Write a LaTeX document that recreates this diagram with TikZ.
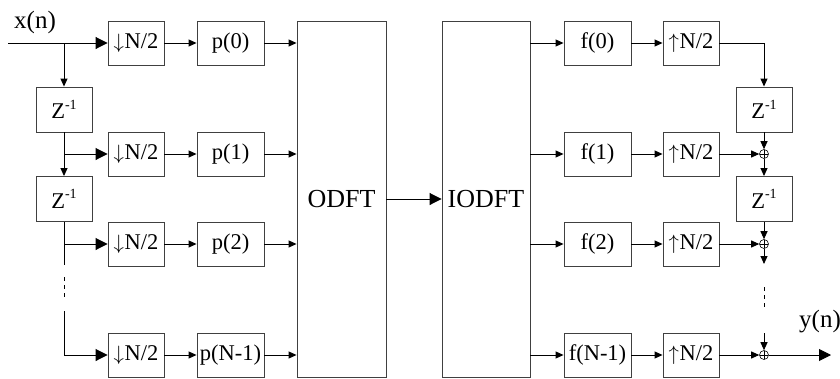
\documentclass[tikz,border=0pt]{standalone}
\usepackage{fontspec}
\setmainfont{Liberation Serif}
\usetikzlibrary{arrows.meta}
\newcommand\zinv{Z\raisebox{0.42em}{\fontsize{14}{14}\selectfont -1}}
\newcommand\dnarr{$\downarrow$\kern0.5pt}
\newcommand\uparr{$\uparrow$\kern0.5pt}
\begin{document}
\begin{tikzpicture}[x=1pt,y=-1pt,
  blk/.style={draw=black!75, line width=0.9pt, minimum height=44pt, inner sep=0pt,
    font=\fontsize{22.5}{25}\selectfont},
  narrow/.style={blk, minimum width=56pt},
  wide/.style={blk, minimum width=67pt},
  delay/.style={narrow, minimum height=45pt},
  tall/.style={blk, minimum height=356pt, font=\fontsize{26}{28}\selectfont},
  sig/.style={line width=0.9pt, -{Triangle[length=8pt,width=7pt]}},
  bigsig/.style={line width=0.9pt, -{Triangle[length=12pt,width=12pt]}},
  wire/.style={line width=0.9pt},
  dots/.style={line width=0.9pt, dash pattern=on 4pt off 4pt},
  sumnode/.style={circle, draw, minimum size=9pt, inner sep=0pt, line width=0.6pt,
    path picture={\draw[line width=0.6pt]
      (path picture bounding box.north) -- (path picture bounding box.south)
      (path picture bounding box.west) -- (path picture bounding box.east);}},
  lbl/.style={font=\fontsize{25}{27}\selectfont, inner sep=0pt}]
\useasboundingbox (0,0) rectangle (840,378);

% analysis side
\node[lbl] (xin) at (35,22) {x(n)};
\node[narrow] (d0) at (136,43) {\dnarr N/2};
\node[narrow] (d1) at (136,154) {\dnarr N/2};
\node[narrow] (d2) at (136,244) {\dnarr N/2};
\node[narrow] (d3) at (136,355) {\dnarr N/2};
\node[wide] (p0) at (230.5,43) {p(0)};
\node[wide] (p1) at (230.5,154) {p(1)};
\node[wide] (p2) at (230.5,244) {p(2)};
\node[wide] (p3) at (230.5,355) {p(N-1)};
\node[delay] (z1) at (64,109.5) {\zinv};
\node[delay] (z2) at (64,199) {\zinv};

% transforms
\node[tall, minimum width=89pt] (odft) at (341.5,199) {ODFT};
\node[tall, minimum width=88pt] (iodft) at (486,199) {IODFT};

% synthesis side
\node[wide] (f0) at (597.5,43) {f(0)};
\node[wide] (f1) at (597.5,154) {f(1)};
\node[wide] (f2) at (597.5,244) {f(2)};
\node[wide] (f3) at (597.5,355) {f(N-1)};
\node[narrow] (u0) at (691,43) {\uparr N/2};
\node[narrow] (u1) at (691,154) {\uparr N/2};
\node[narrow] (u2) at (691,244) {\uparr N/2};
\node[narrow] (u3) at (691,355) {\uparr N/2};
\node[delay] (zr1) at (764,109.5) {\zinv};
\node[delay] (zr2) at (764,199) {\zinv};
\node[sumnode] (s1) at (764,154) {};
\node[sumnode] (s2) at (764,244) {};
\node[sumnode] (s3) at (764,355) {};
\node[lbl] (yout) at (820,322) {y(n)};

% input tapped delay line
\coordinate (in) at (8,43);
\coordinate (b0) at (64,43);
\coordinate (b1) at (64,154);
\coordinate (b2) at (64,244);
\coordinate (g1) at (64,265);
\coordinate (g2) at (64,277);
\coordinate (g3) at (64,300);
\coordinate (g4) at (64,311);
\coordinate (b3) at (64,355);
\draw[bigsig] (in) -- (d0);
\draw[sig] (b0) -- (z1);
\draw[wire] (z1) -- (b1);
\draw[bigsig] (b1) -- (d1);
\draw[sig] (b1) -- (z2);
\draw[wire] (z2) -- (g1);
\draw[bigsig] (b2) -- (d2);
\draw[dots] (g2) -- (g3);
\draw[wire] (g4) -- (b3);
\draw[bigsig] (b3) -- (d3);

% polyphase branches into the ODFT
\foreach \i in {0,1,2,3} {
  \draw[sig] (d\i) -- (p\i);
  \draw[sig] (p\i) -- (p\i -| odft.west);
  \draw[sig] (f\i -| iodft.east) -- (f\i);
  \draw[sig] (f\i) -- (u\i);
}
\draw[bigsig] (odft) -- (iodft);

% output delay-and-add chain
\coordinate (h1) at (764,264);
\coordinate (h2) at (764,287);
\coordinate (h3) at (764,310);
\coordinate (h4) at (764,333);
\coordinate (out) at (831,355);
\draw[sig] (u0) -| (zr1);
\draw[sig] (zr1) -- (s1);
\draw[sig] (u1) -- (s1);
\draw[sig] (s1) -- (zr2);
\draw[sig] (zr2) -- (s2);
\draw[sig] (u2) -- (s2);
\draw[sig] (s2) -- (h1);
\draw[dots] (h2) -- (h3);
\draw[sig] (h4) -- (s3);
\draw[sig] (u3) -- (s3);
\draw[bigsig] (s3) -- (out);
\end{tikzpicture}
\end{document}
